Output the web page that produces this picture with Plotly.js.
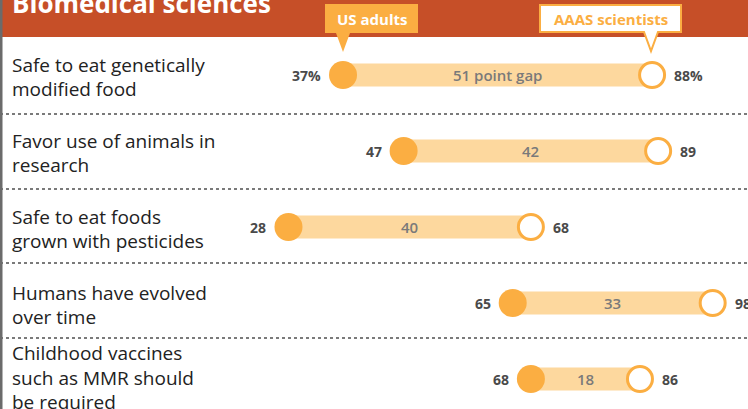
<!DOCTYPE html>
<html>
<head>
<meta charset="utf-8">
<script src="https://cdn.plot.ly/plotly-3.0.1.min.js"></script>
<style>html,body{margin:0;padding:0;background:#fff;}#chart{width:748px;height:409px;}</style>
</head>
<body>
<div id="chart"></div>
<script>
// ---- data ----
var categories = [
  "Safe to eat genetically<br>modified food",
  "Favor use of animals in<br>research",
  "Safe to eat foods<br>grown with pesticides",
  "Humans have evolved<br>over time",
  "Childhood vaccines<br>such as MMR should<br>be required"
];
var usAdults = [37, 47, 28, 65, 68];
var aaasScientists = [88, 89, 68, 98, 86];
var gapLabels = ["51 point gap", "42", "40", "33", "18"];
var leftLabels = ["37%", "47", "28", "65", "68"];
var rightLabels = ["88%", "89", "68", "98", "86"];
var title = "Biomedical sciences";
var seriesNames = ["US adults", "AAAS scientists"];

// ---- style ----
var W = 748, H = 409;
var ORANGE = "#FBAE42", BAR = "#FDD89E", HEADER = "#C64F28";
var FONT = "Open Sans";
function px(x){return x / W;}
function py(y){return 1 - y / H;}

var rows = categories.map(function(_, i){return i;});

// bar (gap) trace
var bx = [], by = [];
rows.forEach(function(i){ bx.push(usAdults[i], aaasScientists[i], null); by.push(i, i, null); });

var traces = [
  {type:"scatter", mode:"lines", x:bx, y:by, line:{color:BAR, width:23}, hoverinfo:"skip", showlegend:false},
  {type:"scatter", mode:"markers", name:seriesNames[0], x:usAdults, y:rows,
   marker:{size:28, color:ORANGE, line:{width:0}}, showlegend:false},
  {type:"scatter", mode:"markers", name:seriesNames[1], x:aaasScientists, y:rows,
   marker:{size:25, color:"#ffffff", line:{width:3, color:ORANGE}}, showlegend:false}
];

var annotations = [];
rows.forEach(function(i){
  annotations.push({x:usAdults[i], y:i, xref:"x", yref:"y", text:leftLabels[i], showarrow:false,
    xanchor:"right", xshift:-20, font:{family:FONT, size:14, color:"#4a4a4a", weight:700}});
  annotations.push({x:aaasScientists[i], y:i, xref:"x", yref:"y", text:rightLabels[i], showarrow:false,
    xanchor:"left", xshift:20, font:{family:FONT, size:14, color:"#4a4a4a", weight:700}});
  annotations.push({x:(usAdults[i] + aaasScientists[i]) / 2, y:i, xref:"x", yref:"y", text:gapLabels[i], showarrow:false,
    xanchor:"center", font:{family:FONT, size:15, color:"#7a7a7a", weight:600}});
  var lines = categories[i].split("<br>");
  var offs = lines.length === 3 ? [-26, -1, 23] : [-10, 14];
  lines.forEach(function(t, k){
    annotations.push({x:px(10), y:i, xref:"paper", yref:"y", text:t, showarrow:false,
      xanchor:"left", yanchor:"middle", yshift:-offs[k],
      font:{family:FONT, size:19, color:"#222222"}});
  });
});
// title
annotations.push({x:px(10), y:py(3), xref:"paper", yref:"paper", text:"<b>" + title + "</b>", showarrow:false,
  xanchor:"left", yanchor:"middle", font:{family:FONT, size:26, color:"#ffffff"}});
// callout labels
annotations.push({x:px(371.5), y:py(19), xref:"paper", yref:"paper", text:"<b>" + seriesNames[0] + "</b>", showarrow:false,
  xanchor:"center", yanchor:"middle", font:{family:FONT, size:15, color:"#ffffff"}});
annotations.push({x:px(610.5), y:py(19), xref:"paper", yref:"paper", text:"<b>" + seriesNames[1] + "</b>", showarrow:false,
  xanchor:"center", yanchor:"middle", font:{family:FONT, size:15, color:ORANGE}});

function pathOf(pts){
  return "M " + pts.map(function(p){return px(p[0]) + "," + py(p[1]);}).join(" L ") + " Z";
}

var shapes = [
  {type:"rect", xref:"paper", yref:"paper", x0:0, x1:1, y0:py(37), y1:1, fillcolor:HEADER, line:{width:0}, layer:"below"},
  {type:"rect", xref:"paper", yref:"paper", x0:0, x1:px(2.5), y0:0, y1:1, fillcolor:"#6b6b6b", line:{width:0}, layer:"above"},
  {type:"path", xref:"paper", yref:"paper", path:pathOf([[325,4],[418,4],[418,33],[350,33],[343,52],[336,33],[325,33]]),
    fillcolor:ORANGE, line:{width:0}, layer:"above"},
  {type:"path", xref:"paper", yref:"paper", path:pathOf([[540,5],[681,5],[681,32],[658,32],[651,51],[644,32],[540,32]]),
    fillcolor:"#ffffff", line:{width:2, color:ORANGE}, layer:"above"}
];
[114, 189, 263, 338].forEach(function(y){
  shapes.push({type:"line", xref:"paper", yref:"paper", x0:0, x1:1, y0:py(y), y1:py(y),
    line:{color:"#7a7a7a", width:2, dash:"dot"}, layer:"below"});
});

var x0 = 118.8, k = 6.06;
var layout = {
  width:W, height:H,
  margin:{l:0, r:0, t:0, b:0},
  paper_bgcolor:"#ffffff", plot_bgcolor:"rgba(0,0,0,0)",
  xaxis:{range:[-x0 / k, (W - x0) / k], visible:false, fixedrange:true},
  yaxis:{range:[(H - 75) / 76, -75 / 76], visible:false, fixedrange:true},
  showlegend:false,
  annotations:annotations,
  shapes:shapes
};
Plotly.newPlot("chart", traces, layout, {displayModeBar:false, staticPlot:true});
</script>
</body>
</html>
